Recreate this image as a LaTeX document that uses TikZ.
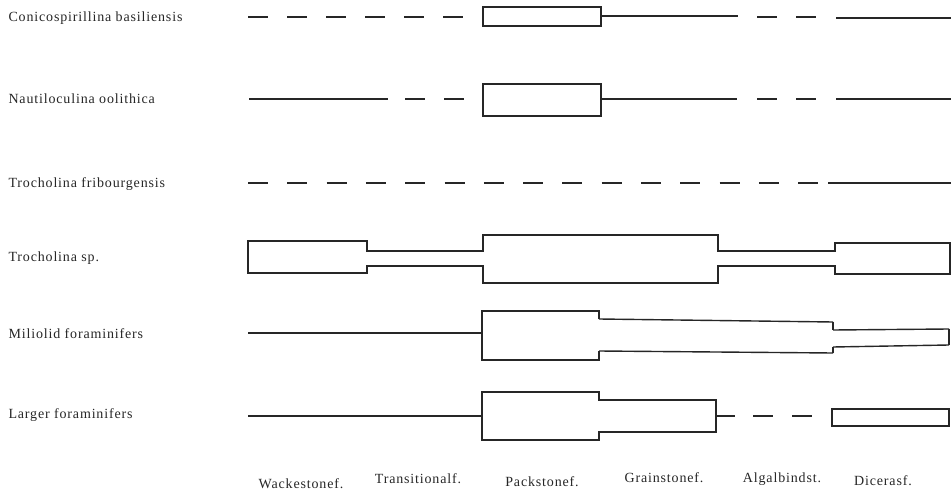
\documentclass[tikz,border=0pt]{standalone}
\usepackage{fontspec}
\setmainfont{Liberation Serif}[LetterSpace=6]
\begin{document}
\begin{tikzpicture}[x=1pt,y=-1pt,line width=1.1pt,color=black!85,
  gaps/.style={dash pattern=on 20pt off 19pt},
  lab/.style={inner sep=0pt,font=\fontsize{14}{16}\selectfont}]
\useasboundingbox (0,0) rectangle (951,492);
\node[lab,anchor=base west] (conico) at (8,22) {Conicospirillina basiliensis};
\node[lab,anchor=base west] (nauti) at (8,104) {Nautiloculina oolithica};
\node[lab,anchor=base west] (fribourg) at (8,188) {Trocholina fribourgensis};
\node[lab,anchor=base west] (trocho) at (8,261) {Trocholina sp.};
\node[lab,anchor=base west] (milio) at (8,338) {Miliolid foraminifers};
\node[lab,anchor=base west] (larger) at (8,418) {Larger foraminifers};
\node[lab,anchor=base] (wacke) at (301,488) {Wackestonef.};
\node[lab,anchor=base] (trans) at (418,483) {Transitionalf.};
\node[lab,anchor=base] (pack) at (542,486) {Packstonef.};
\node[lab,anchor=base] (grain) at (664,482) {Grainstonef.};
\node[lab,anchor=base] (algal) at (782,482) {Algalbindst.};
\node[lab,anchor=base] (dicer) at (883,485) {Dicerasf.};
\draw[gaps] (248,17) -- (463,17);
\draw (483,7) rectangle (601,26);
\draw (601,16) -- (738,16);
\draw[gaps] (757,17) -- (816,17);
\draw (836,18) -- (951,18);
\draw (249,99) -- (388,99);
\draw[gaps] (405,99) -- (464,99);
\draw (483,84) rectangle (601,116);
\draw (601,99) -- (737,99);
\draw[gaps] (757,99) -- (816,99);
\draw (836,99) -- (951,99);
\draw[dash pattern=on 20pt off 19.3pt] (248,183) -- (818,183);
\draw (828,183) -- (951,183);
\draw (248,241) -- (367,241) -- (367,251) -- (483,251) -- (483,235) -- (718,235) -- (718,251) -- (835,251) -- (835,243) -- (950,243)
  -- (950,274) -- (835,274) -- (835,266) -- (718,266) -- (718,283) -- (483,283) -- (483,266) -- (367,266) -- (367,273) -- (248,273) -- cycle;
\draw (248,333) -- (482,333);
\draw (599,319) -- (599,311) -- (482,311) -- (482,360) -- (599,360) -- (599,351);
\draw[line width=1.4pt] (599,319) -- (833,322);
\draw[line width=1.4pt] (599,351) -- (833,353);
\draw (833,322) -- (833,330);
\draw (833,353) -- (833,347);
\draw[line width=1.4pt] (833,330) -- (949,329);
\draw[line width=1.4pt] (833,347) -- (949,345);
\draw (949,329) -- (949,345);
\draw (248,416) -- (482,416);
\draw (482,392) -- (599,392) -- (599,400) -- (716,400) -- (716,432) -- (599,432) -- (599,440) -- (482,440) -- cycle;
\draw (716,416) -- (735,416);
\draw[gaps] (753,416) -- (812,416);
\draw (832,409) rectangle (949,426);
\end{tikzpicture}
\end{document}
